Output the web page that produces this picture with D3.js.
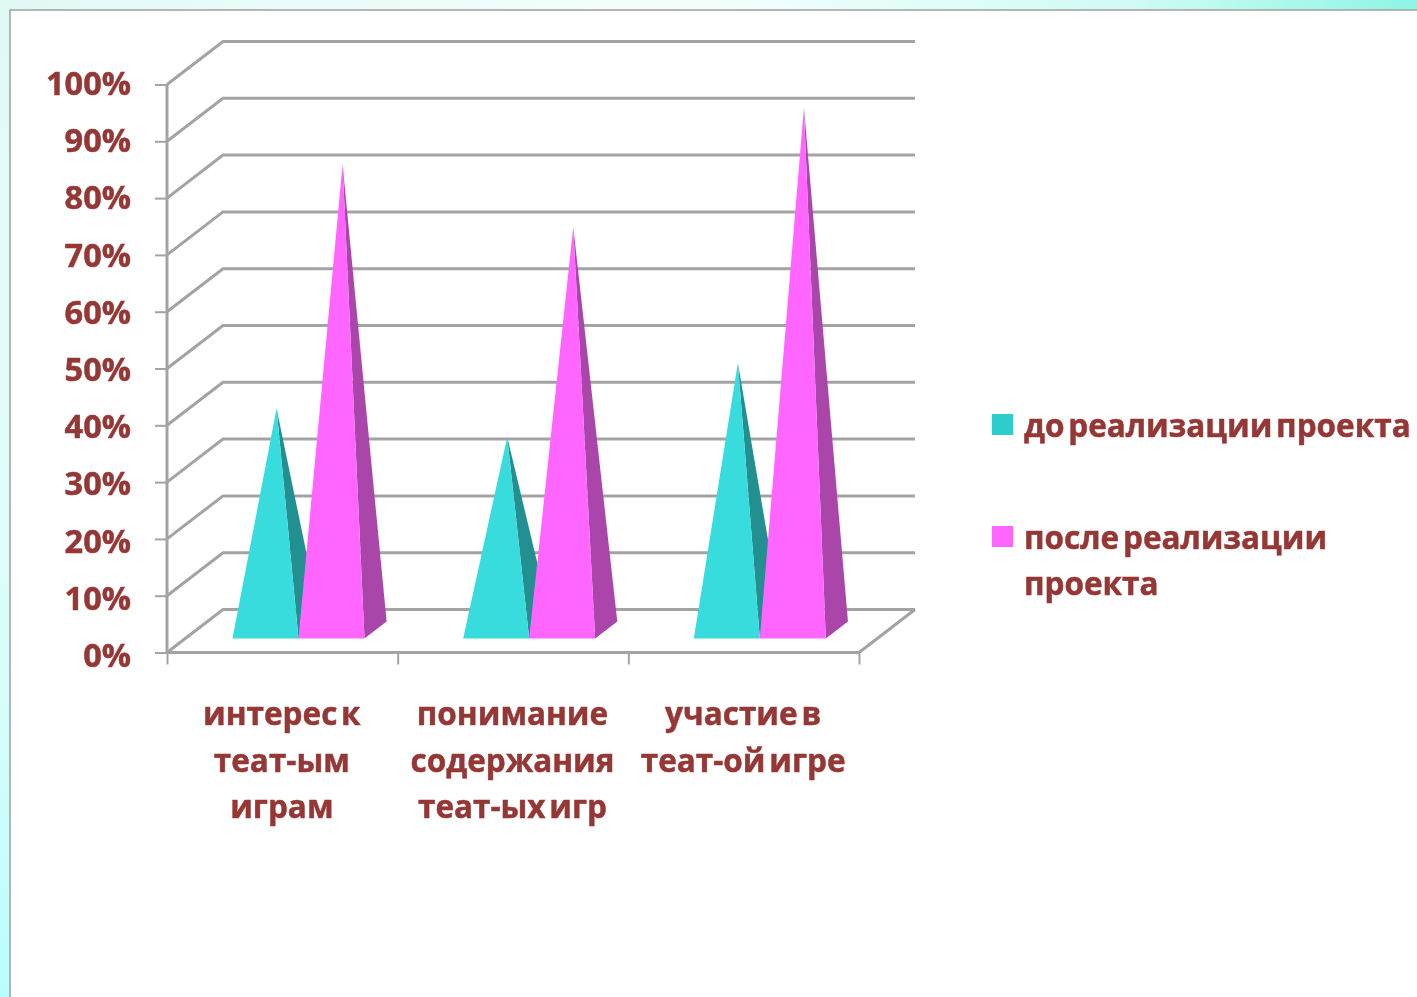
<!DOCTYPE html>
<html>
<head>
<meta charset="utf-8">
<script src="https://cdn.jsdelivr.net/npm/d3@7"></script>
<style>
  html, body { margin: 0; padding: 0; background: #fff; overflow: hidden; }
  text { font-family: "Open Sans", Lato, sans-serif; font-weight: 700; fill: #953735; stroke: #953735; stroke-width: 0.5px; }
  .axis path, .axis line, .grid { stroke: #a3a3a3; fill: none; }
</style>
</head>
<body>
<svg id="chart"></svg>
<script>
const categories = [
  ['интерес к', 'теат-ым', 'играм'],
  ['понимание', 'содержания', 'теат-ых игр'],
  ['участие в', 'теат-ой игре']
];
const seriesNames = [['до реализации проекта'], ['после реализации', 'проекта']];
const before = [39, 34, 47];
const after = [82, 71, 92];
const yTicks = [0, 10, 20, 30, 40, 50, 60, 70, 80, 90, 100];

const width = 1417, height = 997;
const fontSize = '31.5px';
const svg = d3.select('#chart').attr('width', width).attr('height', height);

// page background behind the white panel
const defs = svg.append('defs');
const addGrad = (id, vertical, stops) => {
  const g = defs.append('linearGradient').attr('id', id);
  if (vertical) g.attr('x2', 0).attr('y2', 1);
  stops.forEach(s => g.append('stop').attr('offset', s[0]).attr('stop-color', s[1]));
};
addGrad('bgTop', false, [['0%', '#dff9f4'], ['12%', '#e6fbf7'], ['50%', '#f4fffd'], ['80%', '#d0fbf4'], ['100%', '#8ef5e4']]);
addGrad('bgLeft', true, [['0%', '#dff9f4'], ['30%', '#e4fcf8'], ['70%', '#d8fdfa'], ['100%', '#b8fefe']]);
svg.append('rect').attr('width', width).attr('height', 11).attr('fill', 'url(#bgTop)');
svg.append('rect').attr('width', 11).attr('height', height).attr('fill', 'url(#bgLeft)');

// the reference is a slightly soft, scaled-up screenshot
defs.append('filter').attr('id', 'soft').append('feGaussianBlur').attr('stdDeviation', 0.7);
const root = svg.append('g').attr('filter', 'url(#soft)');

root.append('rect').attr('x', 10).attr('y', 10).attr('width', width).attr('height', height)
  .attr('fill', '#fff').attr('stroke', '#a0a0a0').attr('stroke-width', 1.5);

const y = d3.scaleLinear().domain([0, 100]).range([652.5, 84.5]);
const yLabel = d3.scaleLinear().domain([0, 100]).range([656, 84]);
const x = d3.scaleBand().domain(d3.range(categories.length)).range([167, 859]);
const xInner = d3.scaleBand().domain([0, 1]).range([66, 198]);

// depth projection: 0 = front plane, 1 = back wall
const depthX = 56, depthY = 43;
const px = (xv, d) => xv + d * depthX;
const py = (yv, d) => yv - d * depthY;

// back wall gridlines and their diagonals on the side wall
const gridPts = v => [
  [167, y(v)], [px(167, 1), py(y(v), 1)], [px(859, 1), py(y(v), 1)]
];
const line = d3.line();
root.append('g').selectAll('path').data(yTicks).join('path')
  .attr('class', 'grid').attr('stroke-width', 3).attr('d', v => line(gridPts(v)));
root.append('path').attr('class', 'grid').attr('stroke-width', 3)
  .attr('d', line([[859, y(0)], [px(859, 1), py(y(0), 1)]]));

// axes
const axisL = d3.axisLeft(y).tickValues(yTicks).tickFormat(d => d + '%').tickSize(12).tickPadding(24);
const gy = root.append('g').attr('class', 'axis').attr('transform', 'translate(167,0)').call(axisL);
gy.select('.domain').attr('stroke-width', 3).attr('d', line([[0, y(100)], [0, y(0)]]));
gy.selectAll('line').attr('stroke-width', 2);
gy.selectAll('text').style('font-size', '32.5px').style('font-family', '"Open Sans"')
  .attr('fill', '#953735').attr('y', d => yLabel(d) - y(d));

const axisB = d3.axisBottom(d3.scaleLinear().domain([0, 3]).range([167, 859]))
  .tickValues([0, 1, 2, 3]).tickFormat('').tickSize(12);
const gx = root.append('g').attr('class', 'axis').attr('transform', `translate(0,${y(0)})`).call(axisB);
gx.select('.domain').attr('stroke-width', 3).attr('d', line([[167, 0], [859, 0]]));
gx.selectAll('line').attr('stroke-width', 2);

// pyramids, back series first so the pink one overlaps the teal side
const styles = [
  { front: '#38dcdc', side: '#239090', swatch: '#2ecdcd' },
  { front: '#ff66ff', side: '#aa44aa', swatch: '#ff66ff' }
];
const d0 = 0.325, d1 = 0.72, dMid = (d0 + d1) / 2;
const rows = [before, after];
categories.forEach((_, i) => {
  rows.forEach((vals, s) => {
    const xl = x(i) + xInner(s) - 0.5;
    const xr = xl + xInner.bandwidth();
    const shift = (d1 - d0) * depthX;
    const apex = [(xl + xr) / 2 + shift / 2, py(y(vals[i]), dMid)];
    const b = y(0);
    const g = root.append('g');
    g.append('path').attr('fill', styles[s].side)
      .attr('d', line([[xr, py(b, d0)], [xr + shift, py(b, d1)], apex]) + 'Z');
    g.append('path').attr('fill', styles[s].front)
      .attr('d', line([[xl, py(b, d0)], [xr, py(b, d0)], apex]) + 'Z');
  });
});

// category labels
const catG = root.append('g').selectAll('text').data(categories).join('text')
  .attr('text-anchor', 'middle').style('font-size', fontSize).style('word-spacing', '-4.4px');
catG.each(function (lines, i) {
  d3.select(this).selectAll('tspan').data(lines).join('tspan')
    .attr('x', x(i) + x.bandwidth() / 2 - 0.5)
    .attr('y', (d, k) => 725 + k * 46.5)
    .text(d => d);
});

// legend
const legendY = [414, 526];
const leg = root.append('g').selectAll('g').data(seriesNames).join('g');
leg.append('rect').attr('x', 992).attr('y', (d, i) => legendY[i]).attr('width', 21).attr('height', 21)
  .attr('fill', (d, i) => styles[i].swatch);
leg.append('text').style('font-size', fontSize).style('word-spacing', '-4.4px').each(function (lines, i) {
  d3.select(this).selectAll('tspan').data(lines).join('tspan')
    .attr('x', 1024).attr('y', (d, k) => legendY[i] + 23 + k * 46).text(d => d);
});
</script>
</body>
</html>
